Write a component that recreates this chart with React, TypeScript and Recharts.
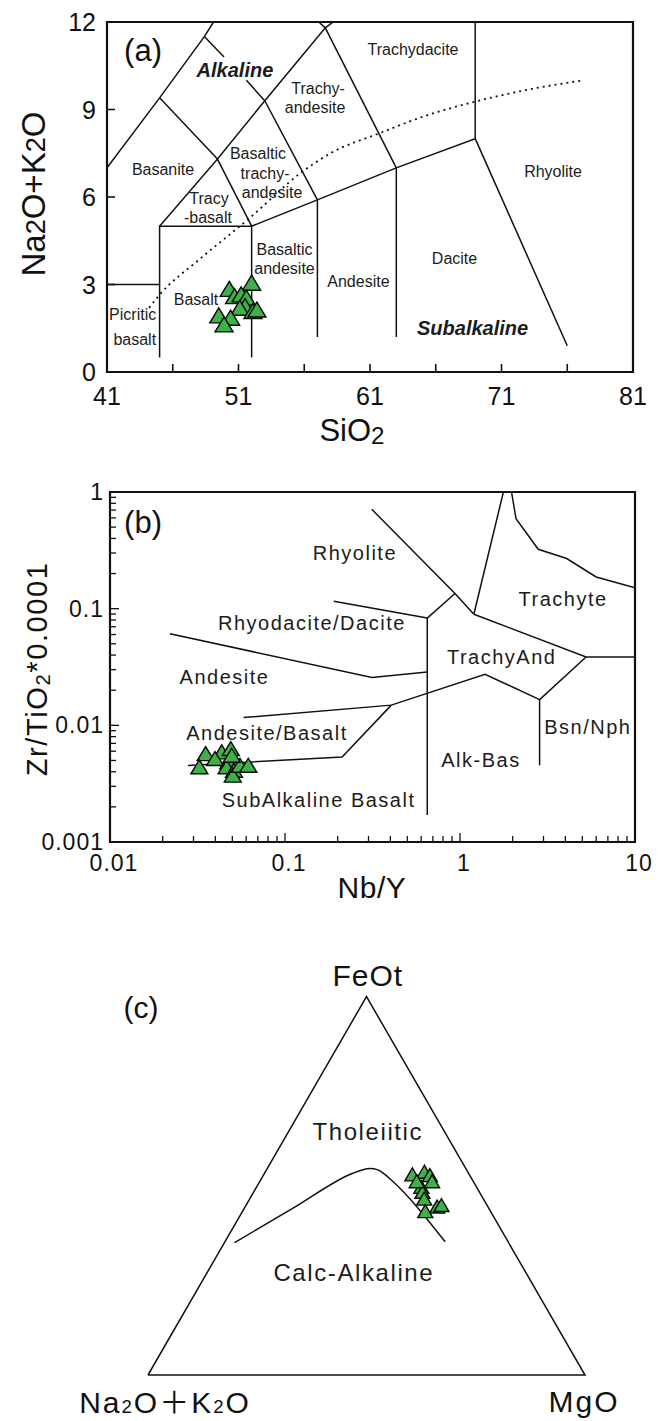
import React from 'react';
import { ScatterChart, Scatter, XAxis, YAxis, ReferenceArea, ReferenceDot } from 'recharts';

const FONT = '"Liberation Sans", Arial, Helvetica, sans-serif';
const FONT_CJK = '"Liberation Sans", Arial, "Noto Sans CJK SC", sans-serif';
const INK = '#111111';
const LABEL_INK = '#1c1c1c';
const GREEN = '#40b048';

type Pt = [number, number];

// ---------------- (a) Total alkali vs silica ----------------
const tasSiO2 = [50.3, 52.0, 50.7, 51.2, 51.6, 51.5, 51.1, 52.1, 52.4, 49.5, 50.4, 49.9];
const tasAlkali = [2.79, 3.0, 2.54, 2.6, 2.49, 2.2, 2.14, 2.03, 2.08, 1.88, 1.8, 1.57];
const tasXTicks = [41, 46, 51, 56, 61, 66, 71, 76, 81];
const tasXLabeled = [41, 51, 61, 71, 81];
const tasYTicks = [0, 3, 6, 9, 12];

const tasBoundaries: Pt[][] = [
  [[41, 3], [45, 3]],
  [[45, 0.5], [45, 5], [52, 5], [57, 5.9], [63, 7], [69, 8], [69, 12]],
  [[52, 0.5], [52, 5]],
  [[57, 1.2], [57, 5.9]],
  [[63, 1.2], [63, 7]],
  [[69, 8], [76, 0.9]],
  [[45, 5], [49.4, 7.3], [52, 5]],
  [[49.4, 7.3], [53, 9.3], [57.6, 11.8], [58.2, 12]],
  [[53, 9.3], [57, 5.9]],
  [[57.6, 11.8], [63, 7]],
  [[57.1, 12], [57.6, 11.8]],
  [[41, 7], [45, 9.4], [48.4, 11.5], [49.1, 12]],
  [[45, 9.4], [49.4, 7.3]],
  [[48.4, 11.5], [49.9, 10.8]],
  [[51.6, 10.0], [53, 9.3]],
];

// Irvine & Baragar alkaline / subalkaline divide
const tasAlkalineDivide: Pt[] = [
  [44.2, 2.2], [45, 2.65], [48, 3.85], [51.9, 5.3], [55.8, 6.85], [58, 7.5],
  [61.8, 8.2], [65, 8.75], [69, 9.27], [73, 9.68], [77.2, 10.0],
];

const tasFieldNames: [string, number, number][] = [
  ['Trachy-', 57.05, 9.74],
  ['andesite', 56.82, 9.08],
  ['Trachydacite', 64.27, 11.07],
  ['Basanite', 45.26, 6.96],
  ['Basaltic', 52.48, 7.5],
  ['trachy-', 53.02, 6.82],
  ['andesite', 53.55, 6.17],
  ['Tracy', 48.76, 5.97],
  ['-basalt', 48.68, 5.31],
  ['Rhyolite', 74.92, 6.89],
  ['Basaltic', 54.5, 4.2],
  ['andesite', 54.5, 3.55],
  ['Andesite', 60.12, 3.12],
  ['Dacite', 67.43, 3.91],
  ['Basalt', 47.77, 2.49],
  ['Picritic', 42.95, 1.97],
  ['basalt', 43.11, 1.11],
];
const tasSeriesNames: [string, number, number][] = [
  ['Alkaline', 50.73, 10.35],
  ['Subalkaline', 68.8, 1.51],
];

// ---------------- (b) Zr/TiO2 vs Nb/Y ----------------
const wfNbY = [0.0352, 0.0324, 0.0435, 0.049, 0.0474, 0.0464, 0.0511, 0.0503, 0.0553, 0.0617, 0.0496, 0.0398];
const wfZrTi = [0.00554, 0.00427, 0.00573, 0.00612, 0.00471, 0.00426, 0.00399, 0.00362, 0.0044, 0.0044, 0.00536, 0.00502];
const wfXDecades = [0.01, 0.1, 1, 10];
const wfYDecades = [0.001, 0.01, 0.1, 1];
const wfXLabels = ['0.01', '0.1', '1', '10'];
const wfYLabels = ['0.001', '0.01', '0.1', '1'];
const minorSteps = [2, 3, 4, 5, 6, 7, 8, 9];

const wfBoundaries: Pt[][] = [
  [[0.313, 0.711], [0.936, 0.135], [1.2, 0.0895]],
  [[0.936, 0.135], [0.65, 0.083], [0.65, 0.0017]],
  [[0.19, 0.116], [0.65, 0.083]],
  [[1.77, 1], [1.2, 0.0895]],
  [[1.97, 1], [2.09, 0.59], [2.8, 0.323], [4.07, 0.269], [6.0, 0.187], [10, 0.151]],
  [[1.2, 0.0895], [5.25, 0.0385], [10, 0.0385]],
  [[5.25, 0.0385], [2.85, 0.0166], [2.85, 0.00455]],
  [[2.85, 0.0166], [1.39, 0.0274], [0.405, 0.0149], [0.058, 0.01167]],
  [[0.405, 0.0149], [0.212, 0.00536], [0.0279, 0.00452]],
  [[0.022, 0.061], [0.314, 0.0257], [0.65, 0.0287]],
];

const wfFieldNames: [string, number, number][] = [
  ['Rhyolite', 0.251, 0.2985],
  ['Trachyte', 3.88, 0.1205],
  ['Rhyodacite/Dacite', 0.1425, 0.075],
  ['TrachyAnd', 1.73, 0.0383],
  ['Andesite', 0.0451, 0.026],
  ['Andesite/Basalt', 0.0789, 0.0086],
  ['Bsn/Nph', 5.38, 0.00969],
  ['Alk-Bas', 1.318, 0.00509],
  ['SubAlkaline Basalt', 0.1556, 0.00231],
];

// ---------------- (c) AFM ternary (A = Na2O+K2O, F = FeOt, M = MgO) ----------------
const afmA = [13.2, 10.1, 9.3, 9.6, 12.8, 13.2, 13.7, 11.8, 10.6, 15.1, 13.1];
const afmF = [52.6, 53.3, 52.4, 50.8, 49.3, 48.0, 46.2, 44.1, 44.5, 42.9, 50.8];
const afmM = [34.2, 36.6, 38.3, 39.6, 37.9, 38.8, 40.1, 44.1, 44.9, 42.0, 36.1];

// Tholeiitic / calc-alkaline divide (A, F, M)
const afmDivide: [number, number, number][] = [
  [62.8, 35.0, 2.3], [44.6, 44.1, 11.2], [26.5, 53.3, 20.2], [23.9, 54.2, 21.9],
  [21.9, 54.5, 23.5], [20.3, 54.2, 25.5], [19.3, 53.0, 27.7], [18.5, 51.4, 30.1],
  [14.4, 35.2, 50.4],
];
const afmCorners: [number, number, number][] = [[100, 0, 0], [0, 100, 0], [0, 0, 100], [100, 0, 0]];

const H = Math.sqrt(3) / 2;
const ternary = ([a, f, m]: [number, number, number]) => {
  const s = a + f + m;
  return { x: (m + f / 2) / s, y: (f / s) * H };
};

const pairs = (xs: number[], ys: number[]) => xs.map((x, i) => ({ x, y: ys[i] }));
const toPoints = (pts: Pt[]) => pts.map(([x, y]) => ({ x, y }));

const Empty = () => <g />;

const triangleMark = (w: number, h: number) => (p: any) => {
  const { cx, cy } = p;
  if (typeof cx !== 'number' || typeof cy !== 'number') return <g />;
  const top = cy - h * 0.62;
  const base = cy + h * 0.38;
  return (
    <polygon
      points={`${cx},${top} ${cx - w / 2},${base} ${cx + w / 2},${base}`}
      fill={GREEN}
      stroke="#0a0a0a"
      strokeWidth={1.4}
    />
  );
};

type TextStyle = {
  size: number;
  weight?: string;
  italic?: boolean;
  spacing?: number;
  rotate?: number;
  family?: string;
  color?: string;
};
const textMark = (content: React.ReactNode, s: TextStyle) => (p: any) => {
  const { cx, cy } = p;
  return (
    <text
      x={cx}
      y={cy}
      dy="0.36em"
      textAnchor="middle"
      fontSize={s.size}
      fontFamily={s.family ?? FONT}
      fontWeight={s.weight ?? 'normal'}
      fontStyle={s.italic ? 'italic' : 'normal'}
      letterSpacing={s.spacing ?? 0}
      fill={s.color ?? LABEL_INK}
      transform={s.rotate ? `rotate(${s.rotate} ${cx} ${cy})` : undefined}
    >
      {content}
    </text>
  );
};

const lineStyle = { stroke: INK, strokeWidth: 1.5, fill: 'none' };

// ---- tick renderers (ticks point into the plot) ----
const tasXTick = (p: any) => {
  const { x, y, payload } = p;
  const v = payload.value;
  return (
    <g>
      <line x1={x} y1={y} x2={x} y2={y - 8} stroke={INK} strokeWidth={1.6} />
      {tasXLabeled.includes(v) && (
        <text x={x} y={y + 33} textAnchor="middle" fontSize={25} fontFamily={FONT} fill={INK}>
          {v}
        </text>
      )}
    </g>
  );
};
const tasYTick = (p: any) => {
  const { x, y, payload } = p;
  return (
    <g>
      <line x1={x} y1={y} x2={x + 8} y2={y} stroke={INK} strokeWidth={1.6} />
      <text x={x - 11} y={y + 9} textAnchor="end" fontSize={25} fontFamily={FONT} fill={INK}>
        {payload.value}
      </text>
    </g>
  );
};

const decadeIndex = (v: number, decades: number[]) =>
  decades.findIndex((d) => Math.abs(v - d) / d < 1e-6);

const wfXTicks = [...wfXDecades, ...wfXDecades.slice(0, -1).flatMap((d) => minorSteps.map((k) => k * d))];
const wfYTicks = [...wfYDecades, ...wfYDecades.slice(0, -1).flatMap((d) => minorSteps.map((k) => k * d))];

const wfXTick = (p: any) => {
  const { x, y, payload } = p;
  const i = decadeIndex(payload.value, wfXDecades);
  return (
    <g>
      <line x1={x} y1={y} x2={x} y2={y - (i >= 0 ? 9 : 6)} stroke={INK} strokeWidth={1.3} />
      {i >= 0 && (
        <text x={x + 4} y={y + 29} textAnchor="middle" fontSize={23} letterSpacing={1} fontFamily={FONT} fill={INK}>
          {wfXLabels[i]}
        </text>
      )}
    </g>
  );
};
const wfYTick = (p: any) => {
  const { x, y, payload } = p;
  const i = decadeIndex(payload.value, wfYDecades);
  return (
    <g>
      <line x1={x} y1={y} x2={x + (i >= 0 ? 9 : 6)} y2={y} stroke={INK} strokeWidth={1.3} />
      {i >= 0 && (
        <text x={x - 6} y={y + 8} textAnchor="end" fontSize={23} letterSpacing={1} fontFamily={FONT} fill={INK}>
          {wfYLabels[i]}
        </text>
      )}
    </g>
  );
};

export default function App() {
  return (
    <div style={{ position: 'absolute', left: 0, top: 0, width: 671, height: 1421, background: '#ffffff' }}>
      {/* (a) TAS classification */}
      <div style={{ position: 'absolute', left: 0, top: 0 }}>
        <ScatterChart width={671} height={460} margin={{ top: 22, right: 38, bottom: 0, left: 0 }}>
          <XAxis
            type="number"
            dataKey="x"
            domain={[41, 81]}
            ticks={tasXTicks}
            interval={0}
            allowDataOverflow
            axisLine={false}
            tickLine={false}
            tickSize={0}
            tickMargin={0}
            height={88}
            tick={tasXTick}
          />
          <YAxis
            type="number"
            dataKey="y"
            domain={[0, 12]}
            ticks={tasYTicks}
            interval={0}
            allowDataOverflow
            axisLine={false}
            tickLine={false}
            tickSize={0}
            tickMargin={0}
            width={107}
            tick={tasYTick}
          />
          <ReferenceArea x1={41} x2={81} y1={0} y2={12} fill="none" stroke={INK} strokeWidth={2.2} ifOverflow="visible" />
          {tasBoundaries.map((seg, i) => (
            <Scatter key={`tb${i}`} data={toPoints(seg)} line={lineStyle} shape={Empty} isAnimationActive={false} />
          ))}
          <Scatter
            data={toPoints(tasAlkalineDivide)}
            line={{ stroke: INK, strokeWidth: 1.8, strokeDasharray: '2 4', fill: 'none' }}
            lineJointType="monotoneX"
            shape={Empty}
            isAnimationActive={false}
          />
          {tasFieldNames.map(([t, x, y], i) => (
            <ReferenceDot key={`tf${i}`} x={x} y={y} r={0} ifOverflow="visible" shape={textMark(t, { size: 16 })} />
          ))}
          {tasSeriesNames.map(([t, x, y], i) => (
            <ReferenceDot
              key={`ts${i}`}
              x={x}
              y={y}
              r={0}
              ifOverflow="visible"
              shape={textMark(t, { size: 20, weight: 'bold', italic: true })}
            />
          ))}
          <ReferenceDot x={43.74} y={11.04} r={0} ifOverflow="visible" shape={textMark('(a)', { size: 31, color: INK })} />
          <ReferenceDot
            x={35.4}
            y={6.1}
            r={0}
            ifOverflow="visible"
            shape={textMark(
              <>
                Na<tspan fontSize="82%">2</tspan>O+K<tspan fontSize="82%">2</tspan>O
              </>,
              { size: 33, rotate: -90, color: INK },
            )}
          />
          <ReferenceDot
            x={59.63}
            y={-2.0}
            r={0}
            ifOverflow="visible"
            shape={textMark(
              <>
                SiO<tspan fontSize="78%" dy="3">2</tspan>
              </>,
              { size: 31, color: INK },
            )}
          />
          <Scatter data={pairs(tasSiO2, tasAlkali)} shape={triangleMark(18, 15)} isAnimationActive={false} />
        </ScatterChart>
      </div>

      {/* (b) Zr/TiO2 vs Nb/Y */}
      <div style={{ position: 'absolute', left: 0, top: 460 }}>
        <ScatterChart width={671} height={470} margin={{ top: 32, right: 36, bottom: 0, left: 0 }}>
          <XAxis
            type="number"
            dataKey="x"
            scale="log"
            domain={[0.01, 10]}
            ticks={wfXTicks}
            interval={0}
            allowDataOverflow
            axisLine={false}
            tickLine={false}
            tickSize={0}
            tickMargin={0}
            height={88}
            tick={wfXTick}
          />
          <YAxis
            type="number"
            dataKey="y"
            scale="log"
            domain={[0.001, 1]}
            ticks={wfYTicks}
            interval={0}
            allowDataOverflow
            axisLine={false}
            tickLine={false}
            tickSize={0}
            tickMargin={0}
            width={110}
            tick={wfYTick}
          />
          <ReferenceArea x1={0.01} x2={10} y1={0.001} y2={1} fill="none" stroke={INK} strokeWidth={2.2} ifOverflow="visible" />
          {wfBoundaries.map((seg, i) => (
            <Scatter key={`wb${i}`} data={toPoints(seg)} line={lineStyle} shape={Empty} isAnimationActive={false} />
          ))}
          {wfFieldNames.map(([t, x, y], i) => (
            <ReferenceDot
              key={`wf${i}`}
              x={x}
              y={y}
              r={0}
              ifOverflow="visible"
              shape={textMark(t, { size: 20, spacing: 1.5 })}
            />
          ))}
          <ReferenceDot x={0.01544} y={0.55} r={0} ifOverflow="visible" shape={textMark('(b)', { size: 31, color: INK })} />
          <ReferenceDot
            x={0.0038}
            y={0.0305}
            r={0}
            ifOverflow="visible"
            shape={textMark(
              <>
                Zr/TiO<tspan fontSize="70%" dy="3">2</tspan>
                <tspan dy="-3">*0.0001</tspan>
              </>,
              { size: 29, spacing: 1.6, rotate: -90, color: INK },
            )}
          />
          <ReferenceDot x={0.314} y={0.00041} r={0} ifOverflow="visible" shape={textMark('Nb/Y', { size: 30, spacing: 0.5, color: INK })} />
          <Scatter data={pairs(wfNbY, wfZrTi)} shape={triangleMark(17, 14)} isAnimationActive={false} />
        </ScatterChart>
      </div>

      {/* (c) AFM ternary */}
      <div style={{ position: 'absolute', left: 0, top: 930 }}>
        <ScatterChart width={671} height={491} margin={{ top: 66.6, right: 86, bottom: 46, left: 148 }}>
          <XAxis type="number" dataKey="x" domain={[0, 1]} hide />
          <YAxis type="number" dataKey="y" domain={[0, H]} hide />
          <Scatter data={afmCorners.map(ternary)} line={lineStyle} shape={Empty} isAnimationActive={false} />
          <Scatter
            data={afmDivide.map(ternary)}
            line={lineStyle}
            lineJointType="monotoneX"
            shape={Empty}
            isAnimationActive={false}
          />
          <ReferenceDot x={0.503} y={0.558} r={0} ifOverflow="visible" shape={textMark('Tholeiitic', { size: 24, spacing: 1.6 })} />
          <ReferenceDot x={0.471} y={0.236} r={0} ifOverflow="visible" shape={textMark('Calc-Alkaline', { size: 24, spacing: 1.6 })} />
          <ReferenceDot x={0.503} y={0.915} r={0} ifOverflow="visible" shape={textMark('FeOt', { size: 30, spacing: 1, color: INK })} />
          <ReferenceDot x={-0.016} y={0.842} r={0} ifOverflow="visible" shape={textMark('(c)', { size: 30, color: INK })} />
          <ReferenceDot
            x={0.039}
            y={-0.062}
            r={0}
            ifOverflow="visible"
            shape={textMark(
              <>
                Na<tspan fontSize="62%">2</tspan>O＋K<tspan fontSize="62%">2</tspan>O
              </>,
              { size: 30, spacing: 2, color: INK, family: FONT_CJK },
            )}
          />
          <ReferenceDot x={0.998} y={-0.06} r={0} ifOverflow="visible" shape={textMark('MgO', { size: 30, spacing: 2, color: INK })} />
          <Scatter
            data={afmA.map((a, i) => ternary([a, afmF[i], afmM[i]]))}
            shape={triangleMark(15, 13)}
            isAnimationActive={false}
          />
        </ScatterChart>
      </div>
    </div>
  );
}
